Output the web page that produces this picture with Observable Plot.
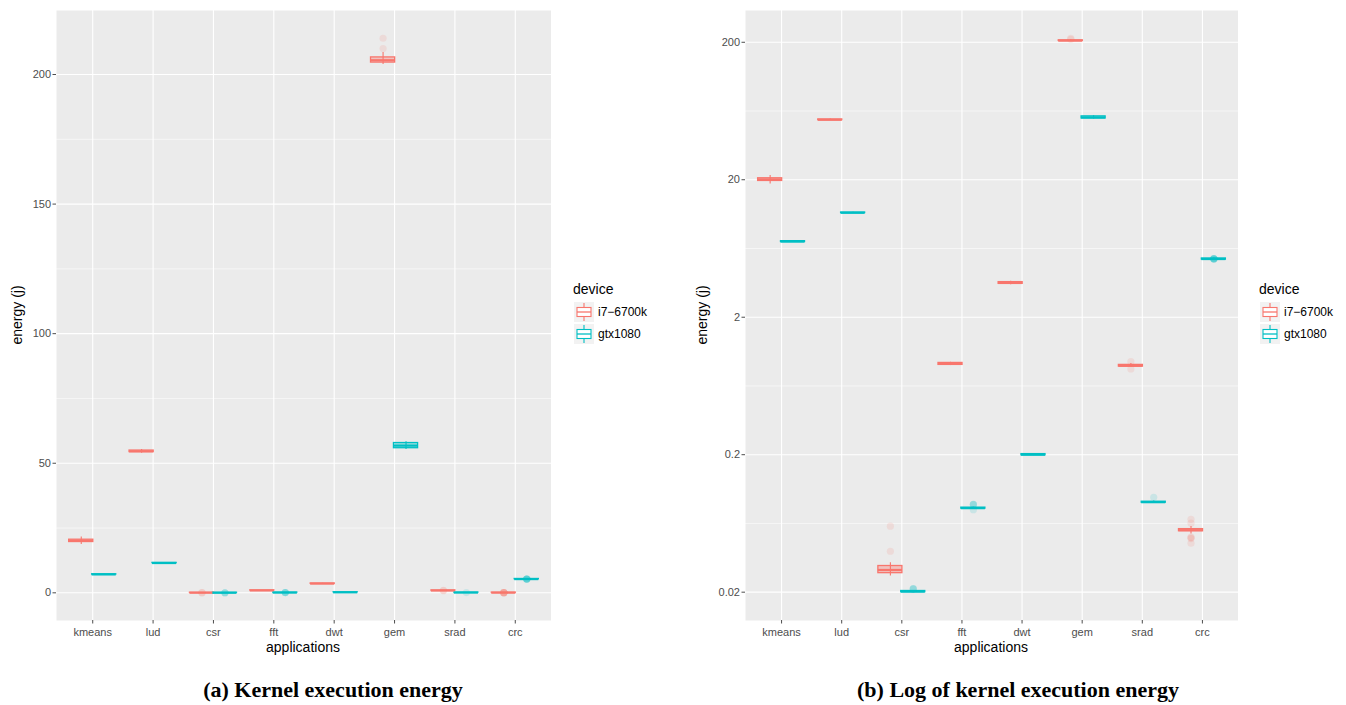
<!DOCTYPE html>
<html><head><meta charset="utf-8">
<script src="https://cdn.jsdelivr.net/npm/d3@7"></script>
<script src="https://cdn.jsdelivr.net/npm/@observablehq/plot@0.6"></script>
<style>
body{margin:0;background:#fff;font-family:"Liberation Sans",Arial,sans-serif;}
#root{position:relative;width:1346px;height:705px;overflow:hidden;}
.abs{position:absolute;}
.ytitle{font-size:14px;color:#000;transform:translate(-50%,-50%) rotate(-90deg);white-space:nowrap;}
.xtitle{font-size:14px;color:#000;transform:translate(-50%,-50%);white-space:nowrap;}
.cap{font-family:"Liberation Serif","DejaVu Serif",serif;font-weight:bold;font-size:22px;transform:translate(-50%,-50%);white-space:nowrap;}
.legtitle{font-size:14px;color:#000;}
.leglab{font-size:12px;color:#000;}
</style></head>
<body><div id="root"></div>
<script>
// ---- data ----
const apps = ["kmeans","lud","csr","fft","dwt","gem","srad","crc"];
const devices = ["i7−6700k","gtx1080"];
const colors = ["#F8766D","#00BFC4"];

// i7-6700k box statistics (per app)
const i7Lo  = [18.6, 53.9, 0.0262, 0.89, 3.45, 203.9, 0.86, 0.053];
const i7Q1  = [19.6, 54.3, 0.0275, 0.90, 3.50, 204.6, 0.875, 0.0555];
const i7Med = [20.1, 54.6, 0.0290, 0.915, 3.55, 205.5, 0.887, 0.0565];
const i7Q3  = [20.5, 54.9, 0.0310, 0.93, 3.60, 206.6, 0.90, 0.0575];
const i7Hi  = [21.5, 55.3, 0.0328, 0.94, 3.65, 208.5, 0.92, 0.060];
// gtx1080 box statistics (per app)
const gtxLo  = [7.0, 11.4, 0.0198, 0.080, 0.197, 55.3, 0.089, 5.2];
const gtxQ1  = [7.05, 11.45, 0.0200, 0.0810, 0.198, 55.8, 0.0895, 5.25];
const gtxMed = [7.1, 11.5, 0.0202, 0.0817, 0.200, 56.8, 0.0903, 5.3];
const gtxQ3  = [7.15, 11.55, 0.0204, 0.0824, 0.202, 57.8, 0.091, 5.35];
const gtxHi  = [7.2, 11.6, 0.0206, 0.083, 0.203, 58.3, 0.092, 5.4];
// outliers [app, value]
const i7Outliers = [["gem",210.0],["gem",214.0],["csr",0.0604],["csr",0.0397],
  ["srad",0.95],["srad",0.84],["crc",0.0678],["crc",0.0635],["crc",0.0503],["crc",0.0497],["crc",0.0491],["crc",0.0454]];
const gtxOutliers = [["csr",0.0212],["csr",0.0212],["csr",0.0211],["fft",0.0870],["fft",0.0872],["fft",0.0866],["fft",0.0796],
  ["srad",0.0979],["crc",5.32],["crc",5.33],["crc",5.31],["crc",5.32],["crc",5.34],["crc",5.30]];
const linTicks = [0,50,100,150,200];
const linMinor = [25,75,125,175];
const logTicks = [0.02,0.2,2,20,200];
const logTickLabels = ["0.02","0.2","2","20","200"];

// ---- build tables ----
const dodge = [-0.19, 0.19], halfW = 0.2;
const stats = [];
[[i7Lo,i7Q1,i7Med,i7Q3,i7Hi],[gtxLo,gtxQ1,gtxMed,gtxQ3,gtxHi]].forEach((s,di)=>{
  apps.forEach((a,i)=>stats.push({app:a, device:devices[di], xc:i+dodge[di],
    lo:s[0][i], q1:s[1][i], med:s[2][i], q3:s[3][i], hi:s[4][i]}));
});
const outl = [];
[i7Outliers,gtxOutliers].forEach((o,di)=>o.forEach(([a,v])=>outl.push({app:a,device:devices[di],xc:apps.indexOf(a)+dodge[di],v})));

const allVals = stats.flatMap(d=>[d.lo,d.hi]).concat(outl.map(d=>d.v));
const vmin = d3.min(allVals), vmax = d3.max(allVals);
const linDomain = [vmin-0.05*(vmax-vmin), vmax+0.05*(vmax-vmin)];
const lmin = Math.log10(vmin), lmax = Math.log10(vmax), lr = lmax-lmin;
const logDomain = [10**(lmin-0.05*lr), 10**(lmax+0.05*lr)];
const logMinor = logTicks.map(t=>t*Math.sqrt(10)).filter(t=>t<logDomain[1]);

function panel(isLog, width, marginLeft){
  const major = isLog ? logTicks : linTicks;
  const minor = isLog ? logMinor : linMinor;
  return Plot.plot({
    width, height: 665, marginLeft, marginRight: 0, marginTop: 10, marginBottom: 45,
    style:{fontFamily:'"Liberation Sans",Arial,sans-serif', background:"transparent"},
    x:{type:"linear", domain:[-0.6, apps.length-0.4]},
    y: isLog ? {type:"log", domain:logDomain} : {type:"linear", domain:linDomain},
    color:{domain:devices, range:colors},
    marks:[
      Plot.frame({fill:"#EBEBEB", stroke:"none"}),
      Plot.ruleY(minor, {stroke:"white", strokeWidth:0.55}),
      Plot.ruleY(major, {stroke:"white", strokeWidth:1.1}),
      Plot.ruleX(d3.range(apps.length), {stroke:"white", strokeWidth:1.1}),
      Plot.ruleX(stats, {x:"xc", y1:"lo", y2:"hi", stroke:"device", strokeWidth:1.1}),
      Plot.rect(stats, {x1:d=>d.xc-halfW, x2:d=>d.xc+halfW, y1:"q1", y2:"q3", fill:"device", fillOpacity:0.35, stroke:"device", strokeWidth:1.3}),
      Plot.ruleY(stats, {y:"med", x1:d=>d.xc-halfW, x2:d=>d.xc+halfW, stroke:"device", strokeWidth:2.2}),
      Plot.dot(outl, {x:"xc", y:"v", r:3.6, fill:"device", fillOpacity:0.14, stroke:"none"}),
      Plot.axisY(major, {tickSize:3.5, tickPadding:2, fontSize:11, color:"#4d4d4d", label:null,
        tickFormat: isLog ? (d=>logTickLabels[logTicks.indexOf(d)]) : (d=>String(d))}),
      Plot.axisX(d3.range(apps.length), {tickSize:3.5, tickPadding:4, fontSize:11, color:"#4d4d4d", label:null,
        tickFormat:d=>apps[d]})
    ]
  });
}

const root = document.getElementById("root");
function place(el, left, top){ el.classList.add("abs"); el.style.left=left+"px"; el.style.top=top+"px"; root.appendChild(el); }
function text(cls, str, left, top){ const d=document.createElement("div"); d.className=cls; d.textContent=str; place(d,left,top); return d; }

place(panel(false, 551, 56), 0, 0);
place(panel(true, 548, 55), 690, 0);

text("ytitle","energy (j)",17,315);
text("ytitle","energy (j)",702,315);
text("xtitle","applications",303,647);
text("xtitle","applications",991,647);
text("cap","(a) Kernel execution energy",333,690);
text("cap","(b) Log of kernel execution energy",1018,690);

function legend(x){
  text("legtitle","device",x,281);
  devices.forEach((dv,i)=>{
    const y = 302 + i*22;
    const svg = d3.create("svg").attr("width",20).attr("height",20);
    svg.append("rect").attr("width",20).attr("height",20).attr("fill","#F2F2F2");
    svg.append("line").attr("x1",10).attr("x2",10).attr("y1",1).attr("y2",19).attr("stroke",colors[i]).attr("stroke-width",1.1);
    svg.append("rect").attr("x",3).attr("y",5.5).attr("width",14).attr("height",9).attr("fill","white").attr("stroke",colors[i]).attr("stroke-width",1.1);
    svg.append("line").attr("x1",3).attr("x2",17).attr("y1",10).attr("y2",10).attr("stroke",colors[i]).attr("stroke-width",1.3);
    place(svg.node(), x+1, y);
    text("leglab", dv, x+25, y+3);
  });
}
legend(573);
legend(1259);
</script></body></html>
